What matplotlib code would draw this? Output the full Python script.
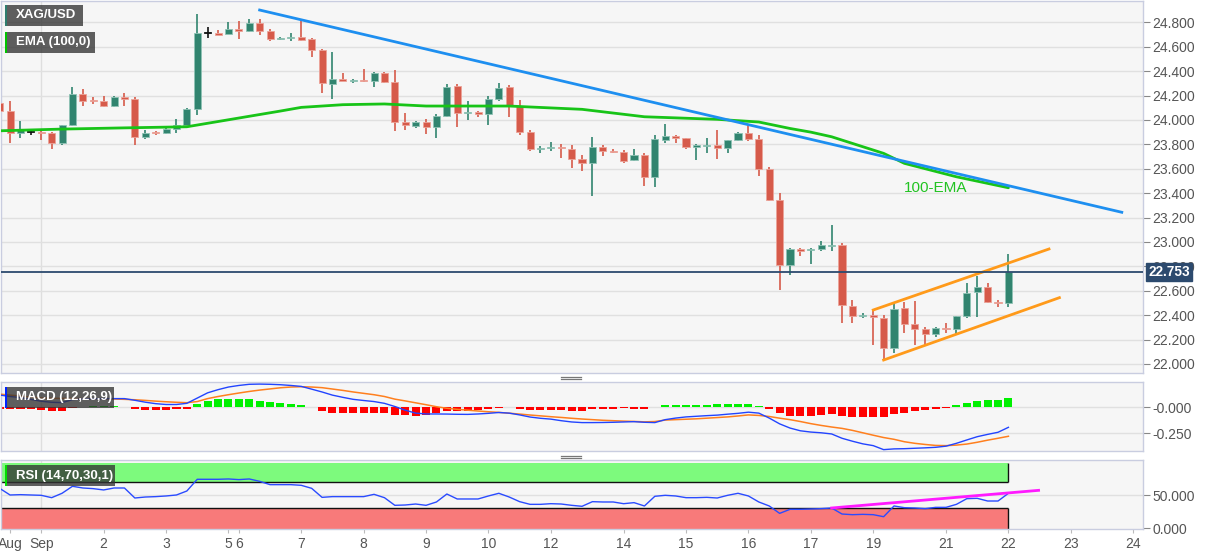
import matplotlib
matplotlib.use("Agg")
import matplotlib.pyplot as plt
from matplotlib.patches import Rectangle
from matplotlib.lines import Line2D
import matplotlib.transforms as mtransforms

plt.rcParams['font.family'] = ['Liberation Sans', 'DejaVu Sans']

# ---------------- data (4-hour XAG/USD candles) ----------------
opens = [24.141, 24.073, 23.890, 23.904, 23.904, 23.896, 23.814, 23.956, 24.215, 24.163,
         24.155, 24.114, 24.185, 24.174, 23.860, 23.901, 23.890, 23.928, 23.956, 24.087,
         24.710, 24.710, 24.707, 24.748, 24.732, 24.792, 24.729, 24.661, 24.672, 24.677,
         24.661, 24.573, 24.292, 24.333, 24.322, 24.327, 24.322, 24.387, 24.311, 23.983,
         23.950, 23.983, 23.939, 24.032, 24.278, 24.057, 24.063, 24.052, 24.174, 24.267,
         24.114, 23.901, 23.759, 23.770, 23.781, 23.764, 23.682, 23.644, 23.781, 23.748,
         23.737, 23.671, 23.715, 23.535, 23.835, 23.868, 23.852, 23.781, 23.789, 23.797,
         23.770, 23.835, 23.896, 23.841, 23.595, 23.343, 22.808, 22.942, 22.931, 22.939,
         22.969, 22.977, 22.477, 22.390, 22.403, 22.376, 22.128, 22.458, 22.327, 22.288,
         22.245, 22.294, 22.286, 22.393, 22.587, 22.628, 22.510, 22.502]
highs = [24.190, 24.155, 23.994, 23.926, 23.906, 23.898, 23.958, 24.267, 24.251, 24.185,
         24.199, 24.196, 24.218, 24.191, 23.917, 23.912, 23.950, 24.010, 24.100, 24.868,
         24.759, 24.737, 24.800, 24.808, 24.827, 24.827, 24.748, 24.677, 24.710, 24.819,
         24.669, 24.578, 24.560, 24.382, 24.338, 24.415, 24.396, 24.392, 24.409, 24.054,
         23.988, 24.005, 24.049, 24.294, 24.294, 24.152, 24.073, 24.196, 24.300, 24.284,
         24.163, 23.917, 23.786, 23.816, 23.803, 23.797, 23.715, 23.863, 23.792, 23.764,
         23.753, 23.759, 23.726, 23.879, 23.967, 23.879, 23.855, 23.803, 23.852, 23.917,
         23.838, 23.901, 23.956, 23.874, 23.617, 23.398, 22.948, 22.948, 22.948, 23.007,
         23.139, 22.989, 22.524, 22.420, 22.442, 22.403, 22.496, 22.507, 22.513, 22.305,
         22.305, 22.338, 22.393, 22.661, 22.720, 22.666, 22.524, 22.901]
lows = [24.040, 23.808, 23.855, 23.876, 23.835, 23.759, 23.792, 23.950, 24.114, 24.128,
        24.109, 24.109, 24.114, 23.792, 23.846, 23.879, 23.887, 23.896, 23.942, 24.038,
        24.669, 24.693, 24.702, 24.666, 24.724, 24.693, 24.644, 24.655, 24.650, 24.644,
        24.513, 24.218, 24.169, 24.316, 24.305, 24.311, 24.267, 24.300, 23.912, 23.917,
        23.931, 23.882, 23.852, 24.027, 23.939, 24.000, 24.021, 23.956, 24.158, 24.021,
        23.874, 23.748, 23.726, 23.743, 23.685, 23.609, 23.584, 23.376, 23.704, 23.726,
        23.650, 23.661, 23.458, 23.448, 23.808, 23.814, 23.764, 23.672, 23.726, 23.682,
        23.726, 23.825, 23.830, 23.540, 23.338, 22.606, 22.731, 22.884, 22.816, 22.928,
        22.928, 22.338, 22.333, 22.376, 22.157, 22.032, 22.087, 22.251, 22.157, 22.157,
        22.223, 22.251, 22.245, 22.374, 22.382, 22.502, 22.469, 22.469]
closes = [24.073, 23.890, 23.917, 23.904, 23.896, 23.814, 23.956, 24.215, 24.158, 24.155,
          24.114, 24.185, 24.174, 23.860, 23.896, 23.890, 23.928, 23.956, 24.087, 24.710,
          24.710, 24.699, 24.748, 24.732, 24.792, 24.732, 24.666, 24.672, 24.677, 24.655,
          24.573, 24.300, 24.333, 24.322, 24.327, 24.319, 24.387, 24.311, 23.986, 23.956,
          23.986, 23.939, 24.032, 24.273, 24.060, 24.065, 24.049, 24.174, 24.262, 24.114,
          23.904, 23.759, 23.770, 23.781, 23.767, 23.682, 23.644, 23.781, 23.748, 23.737,
          23.666, 23.715, 23.535, 23.841, 23.868, 23.855, 23.775, 23.792, 23.797, 23.770,
          23.835, 23.896, 23.846, 23.595, 23.343, 22.808, 22.939, 22.928, 22.942, 22.972,
          22.977, 22.480, 22.390, 22.401, 22.382, 22.128, 22.453, 22.327, 22.288, 22.243,
          22.294, 22.286, 22.393, 22.584, 22.628, 22.507, 22.497, 22.753]

# 100-EMA read at selected candles
ema_idx = [0, 6, 12, 18, 21, 24, 27, 29, 33, 37, 41, 49, 56, 62, 69, 73, 76, 78, 80, 85, 87, 92, 97]
ema_val = [23.911, 23.925, 23.935, 23.944, 23.987, 24.030, 24.073, 24.103, 24.125, 24.131,
           24.114, 24.114, 24.087, 24.026, 24.005, 23.983, 23.930, 23.900, 23.862, 23.726,
           23.644, 23.534, 23.444]

# Trend lines (candle index, price)
down_trend = [(25.0, 24.901), (107.9, 23.243)]
chan_upper = [(84.0, 22.442), (100.9, 22.942)]
chan_lower = [(85.0, 22.032), (101.9, 22.543)]
last_price = 22.753

# MACD (12,26,9)
macd_line = [0.114, 0.100, 0.090, 0.072, 0.055, 0.045, 0.042, 0.070, 0.077, 0.079,
             0.079, 0.080, 0.080, 0.064, 0.046, 0.032, 0.024, 0.024, 0.035, 0.085,
             0.135, 0.165, 0.190, 0.205, 0.216, 0.218, 0.216, 0.212, 0.205, 0.196,
             0.170, 0.143, 0.113, 0.092, 0.073, 0.062, 0.052, 0.035, 0.005, -0.030,
             -0.058, -0.066, -0.066, -0.067, -0.069, -0.070, -0.066, -0.060, -0.052, -0.058,
             -0.075, -0.095, -0.107, -0.115, -0.130, -0.142, -0.148, -0.148, -0.147, -0.145,
             -0.142, -0.139, -0.145, -0.148, -0.120, -0.105, -0.094, -0.088, -0.082, -0.077,
             -0.068, -0.060, -0.049, -0.058, -0.105, -0.160, -0.200, -0.226, -0.238, -0.245,
             -0.256, -0.297, -0.325, -0.350, -0.367, -0.405, -0.398, -0.396, -0.392, -0.388,
             -0.383, -0.372, -0.345, -0.313, -0.282, -0.260, -0.240, -0.193]
signal_line = [0.123, 0.113, 0.104, 0.094, 0.086, 0.083, 0.082, 0.081, 0.080, 0.079,
               0.078, 0.076, 0.073, 0.069, 0.063, 0.056, 0.050, 0.045, 0.041, 0.052,
               0.080, 0.100, 0.117, 0.133, 0.148, 0.161, 0.172, 0.183, 0.190, 0.193,
               0.190, 0.184, 0.171, 0.158, 0.143, 0.130, 0.117, 0.100, 0.075, 0.058,
               0.040, 0.022, 0.003, -0.012, -0.022, -0.030, -0.038, -0.045, -0.051, -0.059,
               -0.067, -0.076, -0.084, -0.092, -0.099, -0.107, -0.114, -0.120, -0.126, -0.130,
               -0.134, -0.137, -0.141, -0.138, -0.124, -0.120, -0.116, -0.112, -0.106, -0.100,
               -0.094, -0.085, -0.075, -0.080, -0.090, -0.106, -0.120, -0.138, -0.158, -0.175,
               -0.190, -0.203, -0.222, -0.245, -0.268, -0.290, -0.307, -0.330, -0.345, -0.356,
               -0.365, -0.367, -0.362, -0.352, -0.335, -0.315, -0.297, -0.278]
macd_hist = [-0.016, -0.016, -0.016, -0.022, -0.032, -0.035, -0.035, -0.006, -0.002, 0.006,
             0.006, 0.006, 0.002, -0.016, -0.025, -0.025, -0.025, -0.022, -0.016, 0.025,
             0.060, 0.073, 0.079, 0.079, 0.073, 0.060, 0.047, 0.035, 0.025, 0.016,
             -0.003, -0.035, -0.054, -0.060, -0.060, -0.060, -0.060, -0.060, -0.073, -0.079,
             -0.082, -0.079, -0.060, -0.041, -0.041, -0.035, -0.025, -0.016, -0.006, -0.003,
             -0.022, -0.025, -0.028, -0.028, -0.032, -0.035, -0.038, -0.016, -0.016, -0.016,
             -0.013, -0.016, -0.016, 0.003, 0.019, 0.022, 0.022, 0.022, 0.022, 0.025,
             0.028, 0.032, 0.032, 0.010, -0.016, -0.060, -0.082, -0.085, -0.082, -0.076,
             -0.066, -0.085, -0.098, -0.098, -0.092, -0.095, -0.066, -0.054, -0.038, -0.032,
             -0.016, -0.006, 0.016, 0.041, 0.060, 0.066, 0.066, 0.085]

# RSI (14)
rsi = [60.7, 50.5, 51.0, 50.5, 50.0, 46.4, 53.1, 63.8, 61.2, 60.2,
       58.2, 61.2, 61.2, 45.9, 47.4, 48.0, 49.0, 50.5, 56.6, 74.5,
       74.5, 74.5, 75.0, 74.0, 75.0, 71.4, 66.3, 66.3, 66.3, 65.3,
       60.7, 46.9, 48.0, 48.0, 48.0, 48.0, 51.5, 46.4, 34.7, 35.2,
       36.7, 34.7, 39.8, 52.0, 44.4, 44.4, 44.4, 49.0, 53.1, 47.4,
       40.3, 36.2, 36.2, 37.2, 36.7, 34.7, 33.2, 40.3, 39.8, 39.8,
       37.2, 38.8, 33.7, 48.5, 50.0, 49.0, 46.4, 46.4, 46.9, 45.9,
       50.0, 53.1, 49.0, 39.8, 33.7, 22.4, 28.6, 28.6, 29.1, 29.6,
       30.6, 21.4, 20.4, 20.9, 20.4, 17.3, 33.7, 31.1, 30.6, 29.6,
       31.6, 31.6, 36.2, 44.9, 45.4, 41.3, 41.3, 53.1]
rsi_trend = [(80.0, 30.6), (99.9, 57.6)]

# x-axis day labels (candle index, text)
xtick_pos = [1, 4, 10, 16, 22, 23, 29, 35, 41, 47, 53, 60, 66, 72, 78, 84, 91, 97, 103, 109]
xtick_lab = ['Aug', 'Sep', '2', '3', '5', '6', '7', '8', '9', '10', '12', '14', '15', '16',
             '17', '19', '21', '22', '23', '24']
month_line = 4

price_ticks = [22.0, 22.2, 22.4, 22.6, 22.8, 23.0, 23.2, 23.4, 23.6, 23.8, 24.0, 24.2, 24.4, 24.6, 24.8]
macd_ticks = [0.0, -0.25]
rsi_ticks = [0.0, 50.0]

# ---------------- figure ----------------
W, H = 1207, 555
fig = plt.figure(figsize=(W / 100, H / 100), dpi=100)
fig.patch.set_facecolor('white')

def px_axes(x0, y0, x1, y1):
    return fig.add_axes([x0 / W, 1 - y1 / H, (x1 - x0) / W, (y1 - y0) / H])

ax = px_axes(1, 1, 1143, 372.7)
axm = px_axes(1, 382.3, 1143, 451)
axr = px_axes(1, 460, 1143, 529)

XL = (0.13, 109.94)
BG = '#f6f6f6'
SPINE = '#c9cde0'
GRID = '#e0e0e0'
TXT = '#555555'
GREEN = '#31846f'
RED = '#d65a4a'

for a in (ax, axm, axr):
    a.set_facecolor(BG)
    a.set_xlim(*XL)
    for s in a.spines.values():
        s.set_color(SPINE)
        s.set_linewidth(1)
    a.yaxis.tick_right()
    a.tick_params(axis='y', colors='#888888', labelcolor=TXT, labelsize=10, length=5,
                  width=0.8, pad=2, direction='out')
    a.tick_params(axis='x', length=0)
    a.set_xticks([])
    a.axvline(month_line, color='#dedede', lw=1, zorder=0)

# ---------------- main price panel ----------------
ax.set_ylim(21.928, 24.975)
ax.set_yticks(price_ticks)
ax.set_yticklabels([f'{t:.3f}' for t in price_ticks])
for t in price_ticks:
    ax.axhline(t, color=GRID, lw=1, zorder=0)

body_w = 0.68
for i, (o, h, l, c) in enumerate(zip(opens, highs, lows, closes)):
    if c > o:
        col, edge = GREEN, '#8fc3b5'
    elif c < o:
        col, edge = RED, '#eca399'
    else:
        col, edge = '#111111', '#111111'
    ax.vlines(i, l, h, color=col, lw=1.2, zorder=2)
    bot = min(o, c)
    hgt = max(abs(c - o), 0.007)
    ax.add_patch(Rectangle((i - body_w / 2, bot), body_w, hgt, facecolor=col,
                           edgecolor=edge, lw=0.6, zorder=3))

ax.plot(ema_idx, ema_val, color='#18c418', lw=2, zorder=4, solid_capstyle='round')
ax.plot([p[0] for p in down_trend], [p[1] for p in down_trend], color='#1e8ff0', lw=2, zorder=4)
ax.plot([p[0] for p in chan_upper], [p[1] for p in chan_upper], color='#ff9a1a', lw=2, zorder=4)
ax.plot([p[0] for p in chan_lower], [p[1] for p in chan_lower], color='#ff9a1a', lw=2, zorder=4)
ax.axhline(last_price, color='#2c4a6e', lw=1.3, zorder=4)
ax.text(90.0, 23.445, '100-EMA', color='#22c322', fontsize=11, va='center', ha='center', zorder=5)

# current price tag
trans = mtransforms.blended_transform_factory(ax.transAxes, ax.transData)
ax.text(1.0045, last_price, f'{last_price:.3f}', transform=trans, color='white', fontsize=9.8,
        fontweight='bold', va='center', ha='left', zorder=10, clip_on=False,
        bbox=dict(boxstyle='square,pad=0.15', fc='#2c4a6e', ec='#2c4a6e'))

# ---------------- MACD panel ----------------
axm.set_ylim(-0.418, 0.235)
axm.set_yticks(macd_ticks)
axm.set_yticklabels(['-0.000', '-0.250'])
for t in macd_ticks:
    axm.axhline(t, color=GRID, lw=1, zorder=0)
idx = list(range(len(macd_hist)))
hcols = ['#00f000' if v > 0 else '#ff0000' for v in macd_hist]
axm.bar(idx, macd_hist, width=0.78, color=hcols, zorder=2)
axm.plot(idx, signal_line, color='#ff7f1e', lw=1.1, zorder=3)
axm.plot(idx, macd_line, color='#2244ff', lw=1.0, zorder=3)

# ---------------- RSI panel ----------------
axr.set_ylim(-1.5, 104)
axr.set_yticks(rsi_ticks)
axr.set_yticklabels(['0.000', '50.000'])
axr.axhline(50, color=GRID, lw=1, zorder=0)
last_i = len(rsi) - 1
axr.fill_between([XL[0] - 1, last_i], 70, 100, color='#7dfa7d', zorder=1, lw=0)
axr.fill_between([XL[0] - 1, last_i], -1.5, 30, color='#f87a7a', zorder=1, lw=0)
axr.hlines([70, 30], XL[0] - 1, last_i, color='#111111', lw=1, zorder=2)
axr.vlines(last_i, 70, 100, color='#111111', lw=1, zorder=2)
axr.vlines(last_i, -1.5, 30, color='#111111', lw=1, zorder=2)
axr.plot(range(len(rsi)), rsi, color='#2a4bff', lw=1.0, zorder=3)
axr.plot([p[0] for p in rsi_trend], [p[1] for p in rsi_trend], color='#ff1aff', lw=2, zorder=4)

axr.set_xticks(xtick_pos)
axr.set_xticklabels(xtick_lab)
axr.tick_params(axis='x', length=3, color='#bbbbbb', labelcolor=TXT, labelsize=10, pad=3)

# ---------------- label boxes & dividers ----------------
def label_box(x0, y0, x1, y1, strip, text):
    fig.patches.append(Rectangle((x0 / W, 1 - y1 / H), (x1 - x0) / W, (y1 - y0) / H,
                                 transform=fig.transFigure, facecolor='#333333', alpha=0.78,
                                 edgecolor='none', zorder=20))
    fig.patches.append(Rectangle((x0 / W, 1 - y1 / H), 2.2 / W, (y1 - y0) / H,
                                 transform=fig.transFigure, facecolor=strip,
                                 edgecolor='none', zorder=21))
    fig.text((x0 + 11) / W, 1 - ((y0 + y1) / 2) / H, text, color='white', fontsize=9.5,
             fontweight='bold', va='center', ha='left', zorder=22)

label_box(5, 5.3, 83, 25.7, '#2e7d6e', 'XAG/USD')
label_box(5, 32.3, 95, 52.7, '#00c400', 'EMA (100,0)')
label_box(5, 386.7, 114, 407.7, '#0022ff', 'MACD (12,26,9)')
label_box(5, 465, 115, 486, '#00dd00', 'RSI (14,70,30,1)')

for yy in (376.5, 379.0, 455.5, 458.0):
    fig.add_artist(Line2D([561 / W, 581 / W], [1 - yy / H, 1 - yy / H], color='#777777',
                          lw=0.9, transform=fig.transFigure))

fig.savefig('out.png', dpi=100, facecolor='white')
